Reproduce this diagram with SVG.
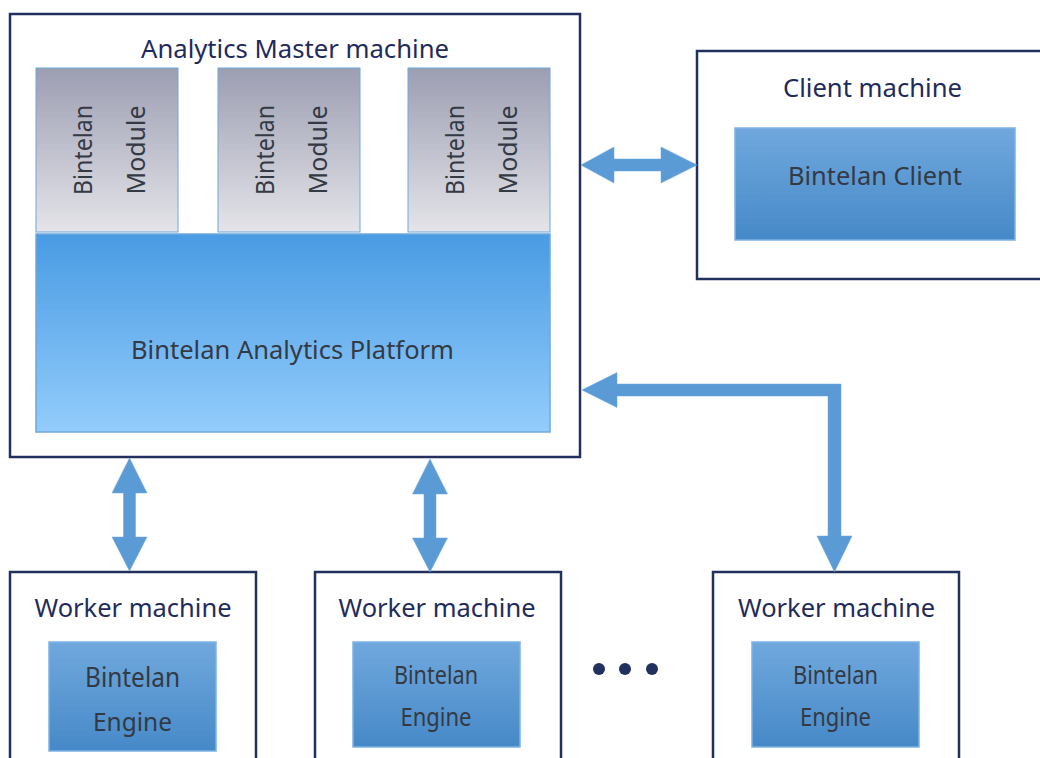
<svg xmlns="http://www.w3.org/2000/svg" width="1040" height="758" viewBox="0 0 1040 758">
<defs>
<linearGradient id="gMod" x1="0" y1="0" x2="0" y2="1"><stop offset="0" stop-color="#9c9eb2"/><stop offset="1" stop-color="#e4e4e9"/></linearGradient>
<linearGradient id="gPlat" x1="0" y1="0" x2="0" y2="1"><stop offset="0" stop-color="#499be3"/><stop offset="1" stop-color="#93ccfc"/></linearGradient>
<linearGradient id="gBox" x1="0" y1="0" x2="0" y2="1"><stop offset="0" stop-color="#70a8dd"/><stop offset="1" stop-color="#4689c8"/></linearGradient>
<style>
.mach{fill:#fff;stroke:#22305e;stroke-width:2.5}
.mod{fill:url(#gMod);stroke:#6fa8dc;stroke-width:1}
.plat{fill:url(#gPlat);stroke:#6fa8dc;stroke-width:1.5}
.box{fill:url(#gBox);stroke:#7eb3e4;stroke-width:1.5}
.t{font-family:"Noto Sans","Open Sans",sans-serif;font-size:26px;text-anchor:middle}
.s{font-size:25px}
.tm{fill:#1f2b5b}
.ti{fill:#343a44}
.arr{fill:#5b9bd5;stroke:#6aa5dc;stroke-width:0.5}
</style>
</defs>
<g id="master">
<rect class="mach" x="10" y="14" width="570" height="443"/>
<text class="t tm" x="295" y="58" textLength="308" lengthAdjust="spacingAndGlyphs">Analytics Master machine</text>
</g>
<g id="module1">
<rect class="mod" x="36" y="68" width="142" height="164"/>
<text class="t ti" transform="translate(92,150) rotate(-90)" textLength="90" lengthAdjust="spacingAndGlyphs">Bintelan</text>
<text class="t ti" transform="translate(145,150) rotate(-90)" textLength="89" lengthAdjust="spacingAndGlyphs">Module</text>
</g>
<g id="module2">
<rect class="mod" x="218" y="68" width="142" height="164"/>
<text class="t ti" transform="translate(274,150) rotate(-90)" textLength="90" lengthAdjust="spacingAndGlyphs">Bintelan</text>
<text class="t ti" transform="translate(327,150) rotate(-90)" textLength="89" lengthAdjust="spacingAndGlyphs">Module</text>
</g>
<g id="module3">
<rect class="mod" x="408" y="68" width="142" height="164"/>
<text class="t ti" transform="translate(464,150) rotate(-90)" textLength="90" lengthAdjust="spacingAndGlyphs">Bintelan</text>
<text class="t ti" transform="translate(517,150) rotate(-90)" textLength="89" lengthAdjust="spacingAndGlyphs">Module</text>
</g>
<g id="platform">
<rect class="plat" x="36" y="234" width="514" height="198"/>
<text class="t ti" x="292.5" y="359" textLength="323" lengthAdjust="spacingAndGlyphs">Bintelan Analytics Platform</text>
</g>
<g id="client">
<rect class="mach" x="697" y="51" width="350" height="228"/>
<text class="t tm" x="872.5" y="97" textLength="179" lengthAdjust="spacingAndGlyphs">Client machine</text>
<rect class="box" x="735" y="128" width="280" height="112"/>
<text class="t ti" x="875" y="185" textLength="174" lengthAdjust="spacingAndGlyphs">Bintelan Client</text>
</g>
<g id="worker1">
<rect class="mach" x="10" y="572" width="246" height="200"/>
<text class="t tm" x="133" y="617" textLength="197" lengthAdjust="spacingAndGlyphs">Worker machine</text>
<rect class="box" x="49" y="642" width="167" height="109"/>
<text class="t ti" x="132.5" y="687" textLength="95" lengthAdjust="spacingAndGlyphs" style="font-size:28px">Bintelan</text>
<text class="t ti" x="132.5" y="731" textLength="79" lengthAdjust="spacingAndGlyphs">Engine</text>
</g>
<g id="worker2">
<rect class="mach" x="315" y="572" width="246" height="200"/>
<text class="t tm" x="437" y="617" textLength="197" lengthAdjust="spacingAndGlyphs">Worker machine</text>
<rect class="box" x="353" y="642" width="167" height="105"/>
<text class="t ti s" x="436" y="684" textLength="84" lengthAdjust="spacingAndGlyphs">Bintelan</text>
<text class="t ti s" x="436" y="726" textLength="71" lengthAdjust="spacingAndGlyphs">Engine</text>
</g>
<g id="worker3">
<rect class="mach" x="713" y="572" width="246" height="200"/>
<text class="t tm" x="836.5" y="617" textLength="197" lengthAdjust="spacingAndGlyphs">Worker machine</text>
<rect class="box" x="752" y="642" width="167" height="105"/>
<text class="t ti s" x="835.5" y="684" textLength="85" lengthAdjust="spacingAndGlyphs">Bintelan</text>
<text class="t ti s" x="835.5" y="726" textLength="71" lengthAdjust="spacingAndGlyphs">Engine</text>
</g>
<g id="ellipsis" fill="#22305e">
<circle cx="599" cy="669" r="6"/>
<circle cx="625" cy="669" r="6"/>
<circle cx="652" cy="669" r="6"/>
</g>
<g id="connectors">
<polygon class="arr" points="581,165 614,147 614,159 661,159 661,147 697,165 661,183 661,171 614,171 614,183"/>
<polygon class="arr" points="129.5,458 147,493 135.5,493 135.5,537 147,537 129.5,571 112,537 123.5,537 123.5,493 112,493"/>
<polygon class="arr" points="430,459 447.5,494 436,494 436,538 447.5,538 430,572 412.5,538 424,538 424,494 412.5,494"/>
<polygon class="arr" points="582,390 617,372.5 617,384 841,384 841,536 852,536 834.5,572 817,536 828,536 828,396 617,396 617,407.5"/>
</g>
</svg>
